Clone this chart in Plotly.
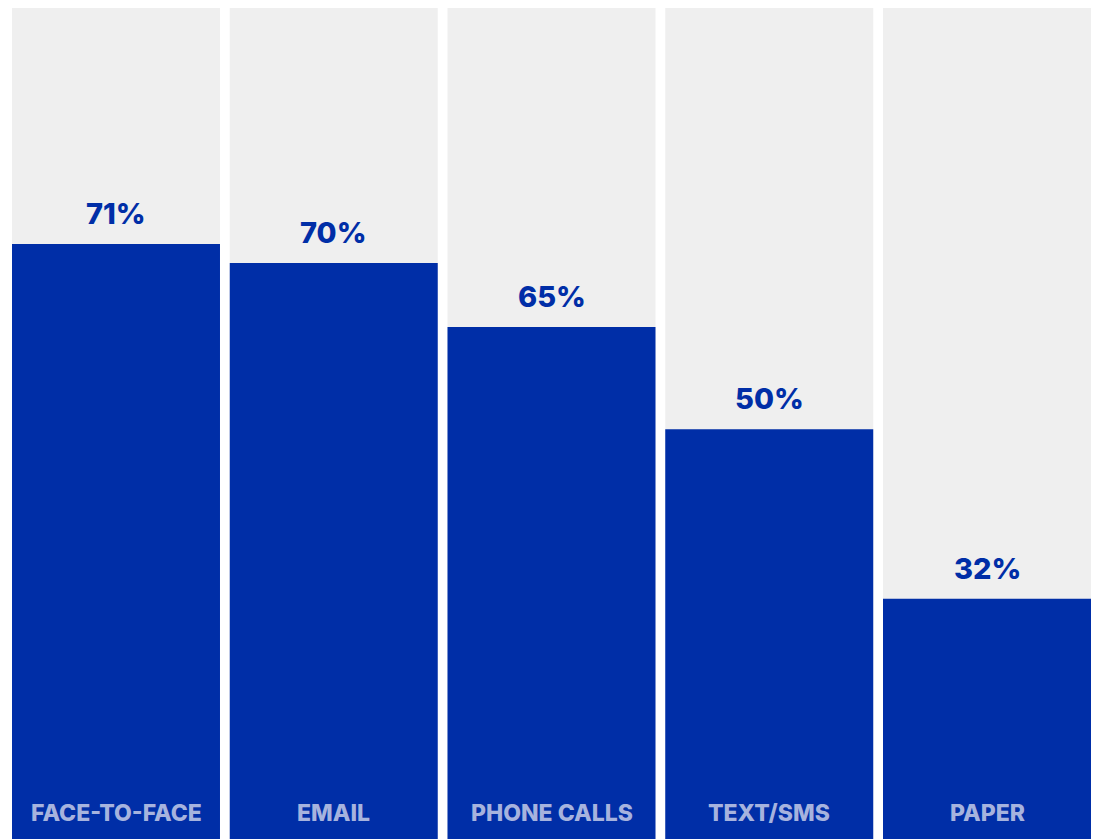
import plotly.graph_objects as go

categories = ["FACE-TO-FACE", "EMAIL", "PHONE CALLS", "TEXT/SMS", "PAPER"]
value_labels = ["71%", "70%", "65%", "50%", "32%"]
# bar heights as drawn in the picture (share of full column height)
bar_heights = [71.6, 69.3, 61.6, 49.3, 28.9]
full = [100, 100, 100, 100, 100]

BLUE = "#002ea7"
GREY = "#efefef"
LABEL = "#a6b3de"

x = list(range(len(categories)))

fig = go.Figure()
fig.add_trace(go.Bar(x=x, y=full, marker=dict(color=GREY, line=dict(width=0)),
                     hoverinfo="skip", showlegend=False))
fig.add_trace(go.Bar(x=x, y=bar_heights, marker=dict(color=BLUE, line=dict(width=0)),
                     hoverinfo="skip", showlegend=False))

for i, (cat, lab, h) in enumerate(zip(categories, value_labels, bar_heights)):
    fig.add_annotation(x=i, y=h, text=lab, showarrow=False, yanchor="bottom",
                       yshift=11, font=dict(family="Inter", size=29, color=BLUE, weight=800))
    fig.add_annotation(x=i, y=0, text=cat, showarrow=False, yanchor="bottom",
                       yshift=10, font=dict(family="Inter", size=23, color=LABEL, weight=800))

fig.update_layout(
    width=1094, height=839,
    margin=dict(l=0, r=0, t=8, b=0),
    barmode="overlay", bargap=0.0448,
    plot_bgcolor="white", paper_bgcolor="white",
    xaxis=dict(range=[-0.5327, 4.4914], visible=False, fixedrange=True),
    yaxis=dict(range=[0, 100], visible=False, fixedrange=True),
)

fig.write_html("out.html", config={"displayModeBar": False})
